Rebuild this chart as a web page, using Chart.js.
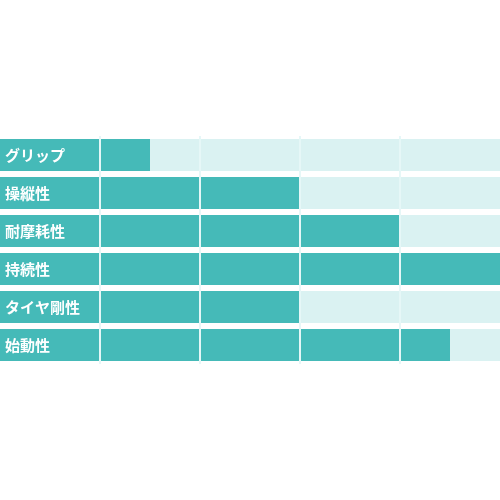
<!DOCTYPE html>
<html lang="ja">
<head>
  <meta charset="UTF-8">
  <title>タイヤ性能</title>
  <script src="https://cdn.jsdelivr.net/npm/chart.js"></script>
  <style>
    html, body {
      margin: 0;
      padding: 0;
      background: #ffffff;
    }

    .chart-container {
      width: 500px;
      height: 500px;
      position: relative;
    }
  </style>
</head>
<body>

  <div class="chart-container">
    <canvas id="perfChart"></canvas>
  </div>

  <script>
    const categories = ['グリップ', '操縦性', '耐摩耗性', '持続性', 'タイヤ剛性', '始動性'];
    const scores = [0.5, 2, 3, 4, 2, 3.5];
    const maxScore = 4;
    const labelMin = -1; // room for the label box on the left

    const teal = '#45bab8';
    const track = '#daf2f2';
    const gridColor = '#e6f7f7';

    // white labels drawn inside the teal box, on top of the bars
    const boxLabels = {
      id: 'boxLabels',
      afterDatasetsDraw(chart) {
        const c = chart.ctx;
        const yScale = chart.scales.y;
        c.save();
        c.fillStyle = '#ffffff';
        c.font = 'bold 15px "Noto Sans CJK JP", "Noto Sans", sans-serif';
        c.textAlign = 'left';
        c.textBaseline = 'middle';
        categories.forEach((name, i) => {
          c.fillText(name, chart.chartArea.left + 5, yScale.getPixelForValue(i));
        });
        c.restore();
      }
    };

    const ctx = document.getElementById('perfChart').getContext('2d');

    const perfChart = new Chart(ctx, {
      type: 'bar',
      data: {
        labels: categories,
        datasets: [
          {
            // score bar (drawn on top)
            data: scores.map(v => [0, v]),
            backgroundColor: teal,
            grouped: false
          },
          {
            // light background track
            data: categories.map(() => [0, maxScore]),
            backgroundColor: track,
            grouped: false
          },
          {
            // label box
            data: categories.map(() => [labelMin, 0]),
            backgroundColor: teal,
            grouped: false
          }
        ]
      },
      options: {
        indexAxis: 'y',
        responsive: true,
        maintainAspectRatio: false,
        animation: false,
        layout: {
          padding: { top: 136, bottom: 136, left: 0, right: 0 }
        },
        datasets: {
          bar: {
            categoryPercentage: 1,
            barPercentage: 0.842,
            borderWidth: 0
          }
        },
        scales: {
          x: {
            min: labelMin,
            max: maxScore,
            border: { display: false },
            ticks: { display: false, stepSize: 1 },
            grid: {
              z: 1,
              drawTicks: false,
              lineWidth: 2,
              color: c => (c.tick && (c.tick.value === labelMin || c.tick.value === maxScore)) ? 'rgba(0,0,0,0)' : gridColor
            },
            afterFit: s => { s.height = 0; }
          },
          y: {
            border: { display: false },
            grid: { display: false, drawTicks: false },
            ticks: { display: false },
            afterFit: s => { s.width = 0; }
          }
        },
        plugins: {
          legend: { display: false },
          tooltip: { enabled: false }
        }
      },
      plugins: [boxLabels]
    });
  </script>
</body>
</html>
